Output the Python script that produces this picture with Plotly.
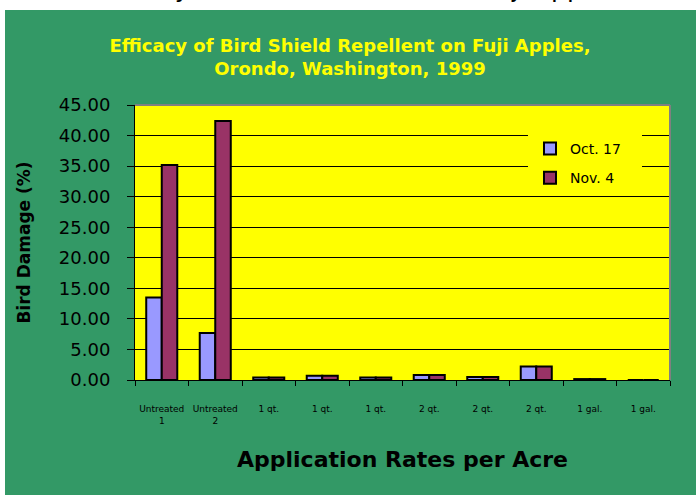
import plotly.graph_objects as go

categories = ["Untreated<br>1", "Untreated<br>2", "1 qt.", "1 qt.", "1 qt.",
              "2 qt.", "2 qt.", "2 qt.", "1 gal.", "1 gal."]
oct17 = [13.5, 7.7, 0.4, 0.7, 0.4, 0.8, 0.5, 2.2, 0.15, 0.0]
nov4 = [35.2, 42.4, 0.4, 0.7, 0.4, 0.8, 0.5, 2.2, 0.15, 0.0]
y_ticks = [0, 5, 10, 15, 20, 25, 30, 35, 40, 45]

pos = list(range(len(categories)))

W, H = 696, 495
L, R, T, B = 135, 26, 105, 115
pw, ph = W - L - R, H - T - B

def px_x(x):
    return (x - L) / pw

def px_y(y):
    return (H - B - y) / ph

FONT = "DejaVu Sans"
GREEN = "#339966"
YELLOW = "#FFFF00"

fig = go.Figure()
fig.add_trace(go.Bar(x=pos, y=oct17, name="Oct. 17", legendgroup="a",
                     marker=dict(color="#9999FF", line=dict(color="black", width=2))))
fig.add_trace(go.Bar(x=pos, y=nov4, name="Nov. 4", legendgroup="b",
                     marker=dict(color="#993366", line=dict(color="black", width=2))))

shapes = [
    dict(type="rect", xref="paper", yref="paper", layer="below",
         x0=px_x(5), x1=px_x(710), y0=px_y(510), y1=px_y(10),
         fillcolor=GREEN, line=dict(width=0)),
    dict(type="rect", xref="paper", yref="paper", layer="below",
         x0=0, x1=1, y0=0, y1=1, fillcolor=YELLOW, line=dict(width=0)),
    # legend backdrop (covers gridlines behind the legend box)
    dict(type="rect", xref="paper", yref="paper", layer="above",
         x0=px_x(528), x1=px_x(642), y0=px_y(190), y1=px_y(133),
         fillcolor=YELLOW, line=dict(width=0)),
    dict(type="line", xref="paper", yref="paper", layer="above",
         x0=0, x1=1, y0=1, y1=1, line=dict(color="#808080", width=2)),
    dict(type="line", xref="paper", yref="paper", layer="above",
         x0=1, x1=1, y0=0, y1=1, line=dict(color="#808080", width=2)),
]

fig.update_layout(
    width=W, height=H,
    margin=dict(l=L, r=R, t=T, b=B),
    paper_bgcolor="white",
    plot_bgcolor="rgba(0,0,0,0)",
    barmode="group", bargap=0.42, bargroupgap=0,
    shapes=shapes,
    font=dict(family=FONT, color="black"),
    title=dict(text="Efficacy of Bird Shield Repellent on Fuji Apples,<br>Orondo, Washington, 1999",
               font=dict(family=FONT, size=18, color=YELLOW, weight="bold"),
               x=350 / W, xref="container", xanchor="center",
               y=1 - 51.5 / H, yref="container", yanchor="middle"),
    legend=dict(x=px_x(530), y=px_y(133), xanchor="left", yanchor="top",
                bgcolor=YELLOW, borderwidth=0, font=dict(family=FONT, size=14),
                traceorder="grouped", tracegroupgap=8),
    xaxis=dict(range=[-0.5, 9.5], tickmode="array", tickvals=pos, ticktext=categories,
               ticks="", tickfont=dict(family=FONT, size=9), ticklabelstandoff=20,
               showline=True, linecolor="black", linewidth=1, showgrid=False, zeroline=False,
               minor=dict(tick0=-0.5, dtick=1, ticks="outside", ticklen=5, tickcolor="black",
                          tickwidth=1, showgrid=False),
               title=dict(text="Application Rates per Acre", standoff=27,
                          font=dict(family=FONT, size=22, weight="bold"))),
    yaxis=dict(range=[0, 45], tickmode="array", tickvals=y_ticks, tickformat=".2f",
               ticks="outside", ticklen=7, tickcolor="black", tickwidth=1,
               tickfont=dict(family=FONT, size=18), ticklabelstandoff=13,
               showline=True, linecolor="black", linewidth=1,
               showgrid=True, gridcolor="black", gridwidth=1, zeroline=False,
               title=dict(text="Bird Damage (%)", standoff=23,
                          font=dict(family=FONT, size=17, weight="bold"))),
    annotations=[dict(text="Efficacy of Bird Shield Trials on Fuji Apples",
                      xref="paper", yref="paper", x=px_x(90), y=1, xanchor="left",
                      yanchor="bottom", yshift=T - 5, showarrow=False,
                      font=dict(family=FONT, size=25, color="black"))],
)

fig.write_html("out.html", config={"displayModeBar": False},
               post_script="document.body.style.margin='0';document.body.style.overflow='hidden';")
